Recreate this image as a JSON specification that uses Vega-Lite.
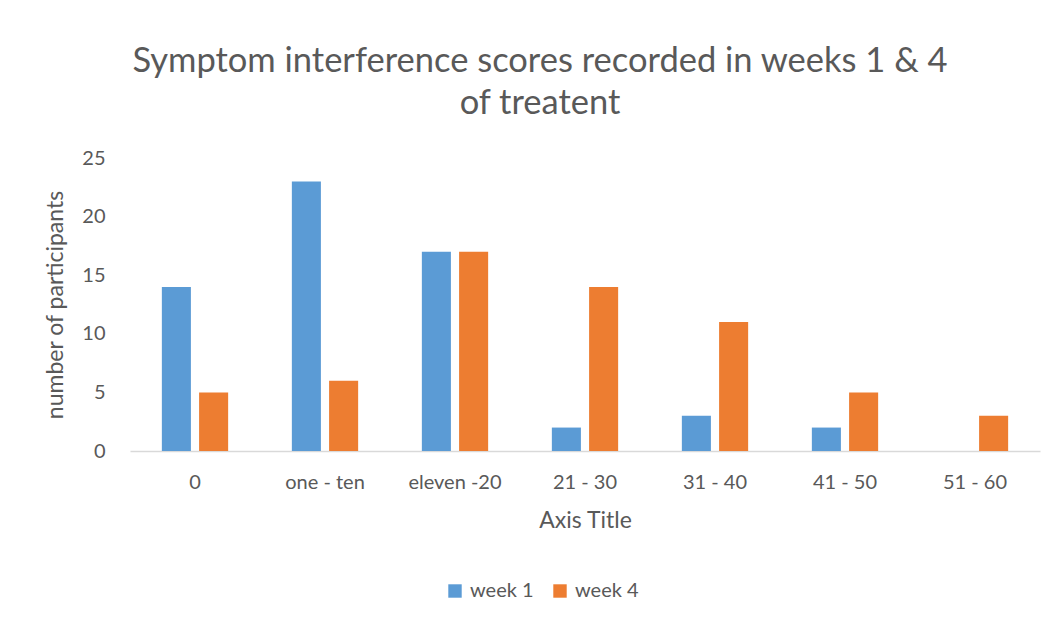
{
  "$schema": "https://vega.github.io/schema/vega-lite/v6.json",
  "autosize": "none",
  "width": 910,
  "height": 293,
  "padding": {"left": 130, "top": 158, "right": 20, "bottom": 171},
  "background": "white",
  "title": {
    "text": ["Symptom interference scores recorded in weeks 1 & 4", "of treatent"],
    "font": "Lato",
    "fontSize": 34.5,
    "fontWeight": "normal",
    "color": "#595959",
    "anchor": "middle",
    "dx": -45,
    "offset": 27,
    "lineHeight": 42
  },
  "data": {
    "values": [
      {"range": "0", "series": "week 1", "count": 14},
      {"range": "0", "series": "week 4", "count": 5},
      {"range": "one - ten", "series": "week 1", "count": 23},
      {"range": "one - ten", "series": "week 4", "count": 6},
      {"range": "eleven -20", "series": "week 1", "count": 17},
      {"range": "eleven -20", "series": "week 4", "count": 17},
      {"range": "21 - 30", "series": "week 1", "count": 2},
      {"range": "21 - 30", "series": "week 4", "count": 14},
      {"range": "31 - 40", "series": "week 1", "count": 3},
      {"range": "31 - 40", "series": "week 4", "count": 11},
      {"range": "41 - 50", "series": "week 1", "count": 2},
      {"range": "41 - 50", "series": "week 4", "count": 5},
      {"range": "51 - 60", "series": "week 4", "count": 3}
    ]
  },
  "mark": {"type": "bar"},
  "encoding": {
    "x": {
      "field": "range",
      "type": "nominal",
      "sort": null,
      "scale": {"paddingInner": 0.49, "paddingOuter": 0.245},
      "axis": {
        "title": "Axis Title",
        "titleFont": "Lato",
        "titleFontSize": 23,
        "titleFontWeight": "normal",
        "titleColor": "#595959",
        "titlePadding": 17,
        "labelFont": "Lato",
        "labelFontSize": 20,
        "labelColor": "#595959",
        "labelAngle": 0,
        "labelPadding": 21,
        "ticks": false,
        "domainColor": "#d9d9d9",
        "domainWidth": 1.5
      }
    },
    "xOffset": {
      "field": "series",
      "type": "nominal",
      "scale": {"paddingInner": 0.22, "paddingOuter": 0}
    },
    "y": {
      "field": "count",
      "type": "quantitative",
      "scale": {"domain": [0, 25]},
      "axis": {
        "title": "number of participants",
        "titleFont": "Lato",
        "titleFontSize": 23,
        "titleFontWeight": "normal",
        "titleColor": "#595959",
        "titlePadding": 14,
        "labelFont": "Lato",
        "labelFontSize": 20,
        "labelColor": "#595959",
        "labelPadding": 25,
        "values": [0, 5, 10, 15, 20, 25],
        "ticks": false,
        "domain": false,
        "grid": false
      }
    },
    "color": {
      "field": "series",
      "type": "nominal",
      "scale": {"domain": ["week 1", "week 4"], "range": ["#5B9BD5", "#ED7D31"]},
      "legend": {
        "title": null,
        "orient": "none",
        "legendX": 315,
        "legendY": 423,
        "direction": "horizontal",
        "symbolType": "square",
        "symbolSize": 180,
        "symbolStrokeWidth": 0,
        "labelFont": "Lato",
        "labelFontSize": 20,
        "labelColor": "#595959",
        "columnPadding": 16,
        "labelOffset": 5
      }
    }
  },
  "config": {
    "view": {"stroke": null}
  }
}
